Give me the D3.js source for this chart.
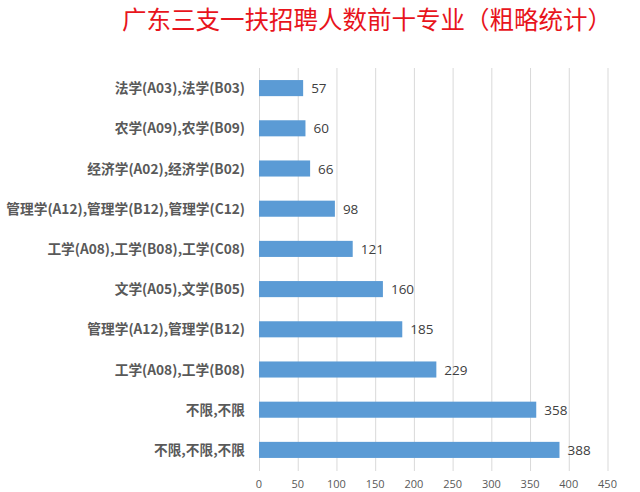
<!DOCTYPE html>
<html><head><meta charset="utf-8">
<script src="https://cdn.jsdelivr.net/npm/d3@7"></script>
<style>body{margin:0;background:#fff;}svg{display:block;}</style>
</head><body>
<svg id="c" width="640" height="492"></svg>
<script>
const title = "广东三支一扶招聘人数前十专业（粗略统计）";
const categories = ["法学(A03),法学(B03)","农学(A09),农学(B09)","经济学(A02),经济学(B02)","管理学(A12),管理学(B12),管理学(C12)","工学(A08),工学(B08),工学(C08)","文学(A05),文学(B05)","管理学(A12),管理学(B12)","工学(A08),工学(B08)","不限,不限","不限,不限,不限"];
const values = [57,60,66,98,121,160,185,229,358,388];
const ticks = [0,50,100,150,200,250,300,350,400,450];

const svg = d3.select("#c");
const x = d3.scaleLinear().domain([0,450]).range([259,607.5]);
const y = d3.scaleBand().domain(categories).range([68,470]).paddingInner(0.6).paddingOuter(0.3);

svg.append("text").attr("x",367).attr("y",29).attr("text-anchor","middle")
  .attr("fill","#e8141c").style("font-family","'Noto Sans CJK SC'").style("font-size","24.5px").text(title);

svg.append("g").selectAll("line").data(ticks).join("line")
  .attr("x1",d=>x(d)+0.5).attr("x2",d=>x(d)+0.5).attr("y1",68).attr("y2",471)
  .attr("stroke","#d9d9d9").attr("stroke-width",1);

svg.append("g").selectAll("text").data(ticks).join("text")
  .attr("x",d=>x(d)).attr("y",488).attr("text-anchor","middle")
  .attr("fill","#595959").style("font-family","'Open Sans','Noto Sans',sans-serif").style("font-size","11px").text(d=>d);

svg.append("g").selectAll("rect").data(values).join("rect")
  .attr("x",x(0)).attr("y",(d,i)=>y(categories[i]))
  .attr("width",d=>x(d)-x(0)).attr("height",y.bandwidth())
  .attr("fill","#5b9bd5");

svg.append("g").selectAll("text").data(values).join("text")
  .attr("x",d=>x(d)+8).attr("y",(d,i)=>y(categories[i])+y.bandwidth()/2+5)
  .attr("fill","#404040").style("font-family","'Open Sans','Noto Sans',sans-serif").style("font-size","13.5px").text(d=>d);

svg.append("g").selectAll("text").data(categories).join("text")
  .attr("x",245).attr("y",d=>y(d)+y.bandwidth()/2+5).attr("text-anchor","end")
  .attr("fill","#595959").style("font-family","'Noto Sans CJK SC'").style("font-size","13.7px").style("font-weight","bold").text(d=>d);
</script>
</body></html>
